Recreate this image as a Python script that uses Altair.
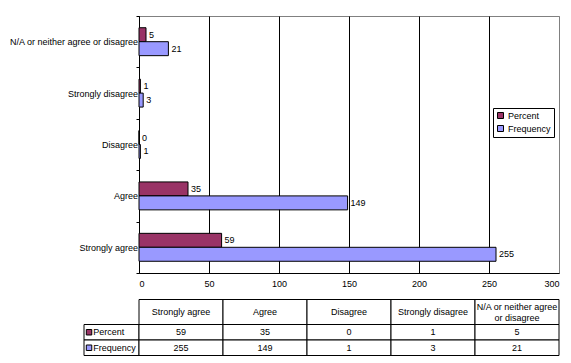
import altair as alt
import pandas as pd

# ---------------- data ----------------
categories = ["Strongly agree", "Agree", "Disagree", "Strongly disagree",
              "N/A or neither agree or disagree"]
series = ["Percent", "Frequency"]
percent = [59, 35, 0, 1, 5]
frequency = [255, 149, 1, 3, 21]
colors = ["#993366", "#9999FF"]
x_ticks = [0, 50, 100, 150, 200, 250, 300]
header_labels = ["Strongly agree", "Agree", "Disagree", "Strongly disagree",
                 "N/A or neither agree\nor disagree"]

FONT = "Liberation Sans"
values_by_series = {"Percent": percent, "Frequency": frequency}

rows = []
for s in series:
    for i, c in enumerate(categories):
        rows.append({"category": c, "series": s, "value": values_by_series[s][i]})
df = pd.DataFrame(rows)

y_order = categories[::-1]

color = alt.Color(
    "series:N",
    scale=alt.Scale(domain=series, range=colors),
    legend=alt.Legend(
        title=None, orient="none", legendX=354, legendY=92,
        symbolType="square", symbolSize=36, symbolStrokeColor="black",
        symbolStrokeWidth=1, labelFont=FONT, labelFontSize=9, labelColor="black",
        strokeColor="black", fillColor="white", padding=3, rowPadding=2,
        labelOffset=3,
    ),
)

base = alt.Chart(df).encode(
    y=alt.Y("category:N", sort=y_order,
            scale=alt.Scale(domain=y_order, paddingInner=0, paddingOuter=0),
            axis=alt.Axis(title=None, tickBand="extent", tickSize=3, tickColor="black",
                          domainColor="black", labelFont=FONT, labelFontSize=9,
                          labelColor="black", labelPadding=-1.5, labelLimit=300)),
    yOffset=alt.YOffset("series:N", sort=series,
                        scale=alt.Scale(domain=series, paddingInner=0, paddingOuter=0.84)),
)

bars = base.mark_bar(stroke="black", strokeWidth=1).encode(
    x=alt.X("value:Q", scale=alt.Scale(domain=[0, 300]),
            axis=alt.Axis(title=None, values=x_ticks, grid=True,
                          gridColor={"condition": {"test": "datum.value === 300", "value": "#808080"},
                                     "value": "black"},
                          gridOpacity=1, ticks=False, domainColor="black",
                          labelFont=FONT, labelFontSize=9, labelColor="black",
                          labelPadding=6)),
    color=color,
)

labels = base.mark_text(align="left", baseline="middle", dx=3, font=FONT,
                        fontSize=9, color="black").encode(
    x=alt.X("value:Q"),
    text=alt.Text("value:Q"),
)

bar_chart = alt.layer(bars, labels).properties(
    width=420, height=257,
    view=alt.ViewBackground(stroke="#808080", strokeWidth=1),
)

# ---------------- data table ----------------
HEADER_H = 25.0
ROW_H = 15.5
LABEL_W = 55 / 84  # label column width in column units
LINE_H = 11

cells = []
texts = []
for i, c in enumerate(categories):
    cells.append({"x": i, "x2": i + 1, "y": 0, "y2": HEADER_H})
    n_lines = header_labels[i].count("\n") + 1
    texts.append({"x": i + 0.5, "y": HEADER_H / 2 - (n_lines - 1) * LINE_H / 2,
                  "t": header_labels[i]})
swatches = []
row_labels = []
for r, s in enumerate(series):
    y0 = HEADER_H + r * ROW_H
    y1 = y0 + ROW_H
    cells.append({"x": -LABEL_W, "x2": 0, "y": y0, "y2": y1})
    swatches.append({"x": -LABEL_W + 0.06, "y": (y0 + y1) / 2, "series": s})
    row_labels.append({"x": -LABEL_W + 0.11, "y": (y0 + y1) / 2, "t": s})
    for i, c in enumerate(categories):
        cells.append({"x": i, "x2": i + 1, "y": y0, "y2": y1})
        texts.append({"x": i + 0.5, "y": (y0 + y1) / 2, "t": str(values_by_series[s][i])})

TABLE_H = HEADER_H + 2 * ROW_H
xs = alt.Scale(domain=[0, 5])
ys = alt.Scale(domain=[0, TABLE_H], reverse=True)

cell_layer = alt.Chart(pd.DataFrame(cells)).mark_rect(
    fill="white", stroke="black", strokeWidth=1).encode(
    x=alt.X("x:Q", scale=xs, axis=None), x2="x2:Q",
    y=alt.Y("y:Q", scale=ys, axis=None), y2="y2:Q",
)
text_layer = alt.Chart(pd.DataFrame(texts)).mark_text(
    align="center", baseline="middle", font=FONT, fontSize=9, color="black",
    lineBreak="\n", lineHeight=LINE_H).encode(
    x=alt.X("x:Q", scale=xs, axis=None),
    y=alt.Y("y:Q", scale=ys, axis=None),
    text="t:N",
)
swatch_layer = alt.Chart(pd.DataFrame(swatches)).mark_point(
    shape="square", filled=True, size=30, stroke="black", strokeWidth=1, opacity=1).encode(
    x=alt.X("x:Q", scale=xs, axis=None),
    y=alt.Y("y:Q", scale=ys, axis=None),
    color=alt.Color("series:N", scale=alt.Scale(domain=series, range=colors)),
)
rowlabel_layer = alt.Chart(pd.DataFrame(row_labels)).mark_text(
    align="left", baseline="middle", font=FONT, fontSize=9, color="black").encode(
    x=alt.X("x:Q", scale=xs, axis=None),
    y=alt.Y("y:Q", scale=ys, axis=None),
    text="t:N",
)

table_chart = alt.layer(cell_layer, text_layer, swatch_layer, rowlabel_layer).properties(
    width=420, height=TABLE_H,
    view=alt.ViewBackground(stroke="transparent"),
)

chart = alt.vconcat(bar_chart, table_chart, spacing=26.5, bounds="flush").properties(
    padding={"left": 0, "top": 3, "right": 0, "bottom": 0},
    background="white",
)

chart.save("out.html", embed_options={"renderer": "svg", "actions": False})
